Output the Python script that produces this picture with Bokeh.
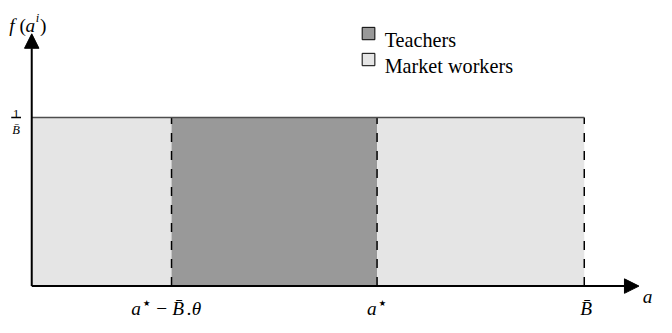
from bokeh.plotting import figure
from bokeh.models import Range1d, Arrow, NormalHead
from bokeh.embed import file_html
from bokeh.resources import INLINE
from bokeh.core.properties import value

# ---- data ----
B_bar = 1.0
a_star = 0.625
theta = 0.372
density = 1.0 / B_bar
groups = ["Market workers", "Teachers", "Market workers"]
left_edges = [0.0, a_star - B_bar * theta, a_star]
right_edges = [a_star - B_bar * theta, a_star, B_bar]
tick_values = [a_star - B_bar * theta, a_star, B_bar]
legend_labels = ["Teachers", "Market workers"]
group_colors = {"Teachers": "#999999", "Market workers": "#e5e5e5"}

# ---- layout helpers (reference pixels -> data) ----
W, H = 656, 317
RW, RH = 672, 333
KX, KY = W / RW, H / RH
FS = (KX + KY) / 2
OX, OY = 32, 300          # reference pixel of the origin
SX, SY = 566, 177         # reference pixels per data unit


def px(xp):
    return (xp - OX) / SX


def py(yp):
    return (OY - yp) / SY


p = figure(width=W, height=H, output_backend="svg", toolbar_location=None,
           x_range=Range1d(px(0), px(RW)), y_range=Range1d(py(RH), py(0)),
           min_border=0, outline_line_color=None)
p.axis.visible = False
p.grid.visible = False
p.background_fill_color = "white"
p.border_fill_color = "white"

FONT = "Liberation Serif"

# bars
p.quad(left=left_edges, right=right_edges, bottom=0, top=density,
       fill_color=[group_colors[g] for g in groups], line_color=None)

# dashed separators
p.segment(x0=tick_values, y0=[0] * 3, x1=tick_values, y1=[density] * 3,
          line_color="black", line_width=1.5, line_dash="9 9")

# top line of density
p.segment(x0=[0], y0=[density], x1=[B_bar], y1=[density],
          line_color="#4d4d4d", line_width=1.5)

# axes with arrows
head = dict(size=15 * FS, fill_color="black", line_color="black", line_width=1)
p.add_layout(Arrow(x_start=0, y_start=0, x_end=px(654), y_end=0, line_width=2,
                   line_color="black", end=NormalHead(**head)))
p.add_layout(Arrow(x_start=0, y_start=0, x_end=0, y_end=py(35), line_width=2,
                   line_color="black", end=NormalHead(**head)))


def label(x, y, s, size, dx=0, dy=0, italic=True, align="left", font=FONT):
    p.text(x=[x], y=[y], text=[s], x_offset=dx * KX, y_offset=dy * KY,
           text_font=value(font), text_font_size=f"{size * FS:.1f}px",
           text_font_style="italic" if italic else "normal",
           text_align=align, text_baseline="alphabetic", text_color="black")


# x tick labels (offsets in reference pixels from the tick position on the axis)
t0, t1, t2 = tick_values
X0 = OX + t0 * SX
X1 = OX + t1 * SX
X2 = OX + t2 * SX
BASE = 324 - OY
label(t0, 0, "a", 20, dx=134 - X0, dy=BASE)
label(t0, 0, "★", 8.5, dx=146 - X0, dy=317.5 - OY, italic=False, font="DejaVu Sans")
label(t0, 0, "−", 20, dx=159.5 - X0, dy=BASE, italic=False)
label(t0, 0, "B̄", 20, dx=176 - X0, dy=BASE)
label(t0, 0, ".θ", 20, dx=191 - X0, dy=BASE)
label(t1, 0, "a", 20, dx=375.5 - X1, dy=BASE)
label(t1, 0, "★", 8.5, dx=387.5 - X1, dy=317.5 - OY, italic=False, font="DejaVu Sans")
label(t2, 0, "B̄", 20, dx=600 - X2, dy=BASE, align="center")

# y tick label 1/B
YD = OY - density * SY
label(0, density, "1", 13, dx=16 - OX, dy=119.5 - YD, italic=False, align="center")
label(0, density, "B̄", 13, dx=16 - OX, dy=136 - YD, align="center")
p.segment(x0=[px(11)], y0=[density], x1=[px(21)], y1=[density],
          line_color="black", line_width=1.5)

# axis titles
label(px(9), py(26.7), "f", 20)
label(px(19.5), py(26.7), "(", 20, italic=False)
label(px(25.5), py(26.7), "a", 20)
label(px(36), py(18.5), "i", 13)
label(px(40.5), py(26.7), ")", 20, italic=False)
label(px(658), py(311), "a", 20)

# legend
for i, lab in enumerate(legend_labels):
    yc = 34.7 + 27.3 * i
    p.rect(x=[px(377)], y=[py(yc)], width=13 * KX, height=13 * KY, width_units="screen",
           height_units="screen", fill_color=group_colors[lab], line_color="black",
           line_width=1)
    label(px(393.5), py(yc + 7), lab, 21, italic=False)

open("out.html", "w").write(file_html(p, INLINE))
